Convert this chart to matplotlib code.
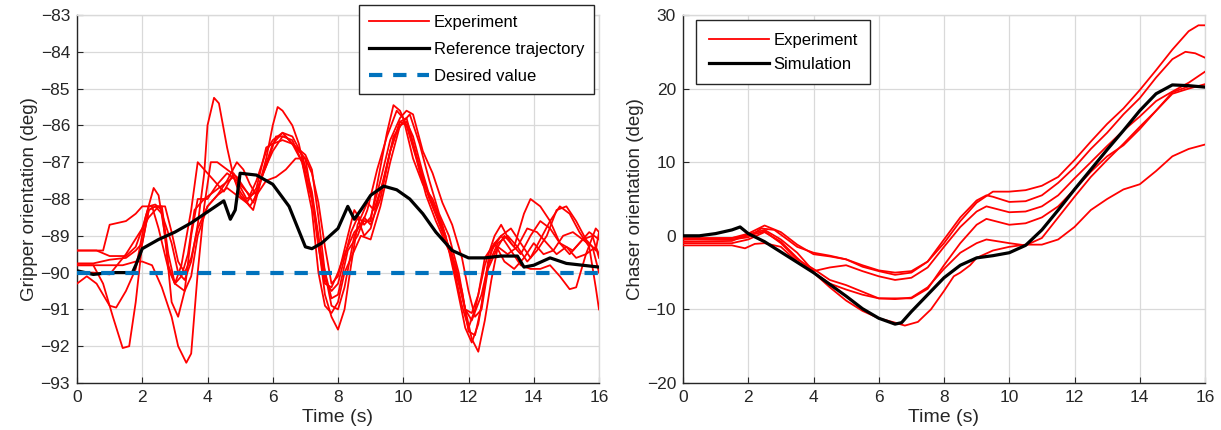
import matplotlib
matplotlib.use("Agg")
import matplotlib.pyplot as plt

# ---------------- Left panel data: Gripper orientation ----------------
ref_t = [0, 0.5, 1.0, 1.7, 1.8, 2.0, 2.5, 3.0, 3.5, 4.0, 4.5, 4.7, 4.85, 5.0, 5.5, 6.0, 6.5, 7.0, 7.2,
         7.5, 8.0, 8.3, 8.5, 8.7, 9.0, 9.4, 9.8, 10.2, 10.6, 11.0, 11.5, 12.0, 12.5, 13.0, 13.5, 13.7,
         14.0, 14.5, 15.0, 15.5, 16.0]
ref_y = [-89.95, -90.05, -90.0, -90.0, -89.8, -89.35, -89.1, -88.9, -88.65, -88.35, -88.05, -88.55, -88.3,
         -87.3, -87.35, -87.6, -88.2, -89.3, -89.35, -89.2, -88.8, -88.2, -88.55, -88.3, -87.9, -87.65,
         -87.75, -88.0, -88.4, -88.9, -89.4, -89.6, -89.6, -89.55, -89.55, -89.85, -89.8, -89.6, -89.75,
         -89.8, -89.85]

expA_t = [0, 0.8, 1.0, 1.5, 1.8, 2.0, 2.3, 2.5, 2.8, 3.0, 3.2, 3.5, 3.7, 4.0, 4.5, 4.8, 5.0, 5.3, 5.5, 5.8,
          6.0, 6.3, 6.6, 6.9, 7.2, 7.5, 7.8, 8.0, 8.3, 8.6, 8.9, 9.2, 9.5, 9.8, 10.0, 10.3, 10.6, 10.9,
          11.2, 11.5, 11.8, 12.0, 12.2, 12.5, 12.8, 13.0, 13.3, 13.6, 13.9, 14.2, 14.5, 14.8, 15.2, 15.5,
          15.8, 16.0]
expA_y = [-89.4, -89.4, -88.7, -88.6, -88.4, -88.2, -88.2, -88.8, -89.9, -90.3, -89.8, -88.3, -87.0, -87.3,
          -87.8, -87.3, -87.6, -87.9, -87.5, -86.7, -86.4, -86.2, -86.5, -87.0, -88.0, -89.6, -90.7, -90.6,
          -89.4, -89.0, -88.3, -87.2, -86.3, -85.6, -85.8, -86.9, -87.6, -88.0, -88.7, -89.7, -90.9, -91.5,
          -91.0, -89.8, -89.0, -88.7, -89.2, -89.5, -89.0, -88.6, -88.8, -89.2, -89.4, -89.1, -89.0, -89.6]

expB_t = [0, 0.5, 0.8, 1.1, 1.4, 1.6, 1.8, 2.0, 2.2, 2.4, 2.6, 2.8, 3.0, 3.2, 3.4, 3.6, 3.9, 4.2, 4.5, 4.8,
          5.0, 5.2, 5.5, 5.8, 6.0, 6.3, 6.6, 7.0, 7.2, 7.4, 7.6, 7.8, 8.0, 8.2, 8.5, 8.8, 9.0, 9.3, 9.6,
          9.9, 10.1, 10.4, 10.7, 11.0, 11.3, 11.6, 11.9, 12.1, 12.3, 12.6, 12.9, 13.2, 13.5, 13.8, 14.1,
          14.4, 14.7, 15.0, 15.3, 15.6, 15.9, 16.0]
expB_y = [-89.8, -89.8, -90.3, -91.2, -92.05, -92.0, -90.8, -89.2, -88.3, -88.2, -88.2, -89.5, -90.3, -90.1,
          -89.5, -88.3, -88.0, -87.8, -87.6, -87.4, -87.9, -88.1, -87.7, -86.6, -86.5, -86.4, -86.5, -86.8,
          -87.2, -88.5, -90.0, -90.9, -91.0, -90.4, -89.0, -88.5, -88.7, -88.0, -86.7, -85.9, -85.8, -86.8,
          -87.7, -88.3, -89.0, -90.2, -91.5, -91.9, -91.4, -89.8, -89.2, -89.0, -89.3, -89.7, -89.4, -89.0,
          -88.3, -88.2, -88.6, -89.1, -89.4, -88.9]

expC_t = [0, 0.3, 0.6, 1.0, 1.2, 1.5, 1.8, 2.1, 2.35, 2.5, 2.7, 2.9, 3.1, 3.3, 3.5, 3.7, 4.0, 4.3, 4.6, 4.9,
          5.2, 5.5, 5.8, 6.1, 6.4, 6.7, 7.0, 7.3, 7.6, 7.8, 8.0, 8.2, 8.4, 8.6, 8.9, 9.1, 9.4, 9.7, 10.0,
          10.2, 10.5, 10.8, 11.1, 11.4, 11.7, 11.9, 12.1, 12.3, 12.5, 12.7, 12.9, 13.1, 13.4, 13.7, 13.9,
          14.2, 14.5, 14.8, 15.1, 15.4, 15.7, 16.0]
expC_y = [-90.3, -90.1, -90.3, -90.9, -90.95, -90.5, -89.9, -88.5, -87.7, -87.9, -89.0, -90.8, -91.2, -90.5,
          -89.0, -88.0, -88.0, -87.6, -87.3, -87.5, -88.0, -87.8, -87.1, -86.3, -86.3, -86.6, -86.9, -88.5,
          -90.6, -91.2, -91.55, -91.0, -89.8, -88.7, -88.1, -88.3, -87.5, -86.3, -85.9, -85.7, -86.5, -87.5,
          -88.4, -89.0, -90.0, -91.0, -91.8, -92.15, -91.3, -90.2, -89.3, -89.0, -89.3, -88.4, -88.0, -88.2,
          -88.6, -89.2, -89.5, -89.2, -88.9, -89.1]

expD_t = [0, 0.6, 1.0, 1.4, 1.8, 2.0, 2.3, 2.6, 2.9, 3.1, 3.35, 3.5, 3.7, 3.9, 4.1, 4.3, 4.6, 4.9, 5.2, 5.4,
          5.7, 6.0, 6.3, 6.6, 6.9, 7.2, 7.4, 7.6, 7.8, 8.0, 8.2, 8.4, 8.6, 8.8, 9.0, 9.3, 9.6, 9.9, 10.1,
          10.4, 10.7, 11.0, 11.3, 11.6, 11.9, 12.1, 12.4, 12.7, 13.0, 13.3, 13.6, 13.9, 14.2, 14.5, 14.8,
          15.1, 15.3, 15.6, 15.9, 16.0]
expD_y = [-89.8, -89.8, -89.8, -89.8, -89.7, -89.7, -89.8, -90.4, -91.2, -92.0, -92.45, -92.2, -90.0, -88.2,
          -87.0, -87.0, -87.2, -87.4, -87.8, -88.1, -87.3, -86.5, -86.2, -86.3, -86.8, -87.8, -89.0, -90.2,
          -90.5, -90.3, -89.6, -88.9, -88.5, -89.0, -88.8, -87.8, -86.7, -85.9, -86.0, -86.9, -87.9, -88.6,
          -89.2, -89.8, -91.0, -91.3, -90.6, -89.4, -89.0, -89.4, -89.8, -89.9, -89.9, -89.8, -90.1, -90.45,
          -90.4, -89.5, -89.3, -89.5]

expE_t = [0, 0.5, 1.0, 1.5, 1.8, 2.0, 2.2, 2.4, 2.6, 2.9, 3.1, 3.3, 3.5, 3.7, 3.9, 4.0, 4.2, 4.35, 4.6, 4.8,
          5.0, 5.3, 5.5, 5.8, 6.0, 6.15, 6.3, 6.6, 6.8, 7.0, 7.2, 7.4, 7.6, 7.8, 8.0, 8.2, 8.5, 8.8, 9.0,
          9.2, 9.5, 9.7, 9.9, 10.2, 10.5, 10.8, 11.1, 11.4, 11.7, 11.9, 12.1, 12.3, 12.5, 12.8, 13.1, 13.4,
          13.7, 14.0, 14.3, 14.6, 14.9, 15.2, 15.5, 15.8, 16.0]
expE_y = [-89.75, -89.75, -89.65, -89.6, -89.4, -89.2, -88.3, -88.2, -88.4, -89.2, -90.0, -90.2, -89.7,
          -88.7, -87.3, -86.0, -85.25, -85.4, -86.6, -87.4, -87.8, -88.2, -87.9, -86.9, -86.0, -85.5, -85.6,
          -86.0, -86.5, -87.3, -88.0, -89.3, -90.3, -90.4, -90.0, -89.5, -88.9, -88.6, -88.6, -87.6, -86.2,
          -85.45, -85.6, -86.2, -87.2, -88.0, -88.6, -89.3, -90.3, -91.0, -91.1, -90.6, -89.6, -89.2, -89.7,
          -89.9, -89.6, -89.2, -89.5, -89.4, -89.0, -88.9, -89.1, -89.3, -90.0]

expF_t = [0, 0.5, 1.0, 1.5, 2.0, 2.2, 2.4, 2.6, 2.8, 3.0, 3.3, 3.5, 3.7, 4.0, 4.3, 4.6, 4.9, 5.2, 5.4, 5.7,
          6.0, 6.3, 6.6, 6.9, 7.2, 7.4, 7.6, 7.8, 8.0, 8.2, 8.5, 8.7, 9.0, 9.3, 9.6, 9.9, 10.1, 10.3, 10.6,
          10.9, 11.2, 11.5, 11.8, 12.0, 12.2, 12.4, 12.6, 12.8, 13.0, 13.3, 13.6, 13.9, 14.2, 14.5, 14.8,
          15.1, 15.4, 15.7, 15.9, 16.0]
expF_y = [-90.0, -90.0, -90.05, -89.5, -88.8, -88.2, -88.15, -88.3, -89.8, -90.3, -90.5, -90.1, -89.0, -88.2,
          -87.9, -87.7, -87.9, -88.1, -88.3, -87.3, -86.7, -86.3, -86.4, -87.0, -88.3, -90.0, -90.9, -91.1,
          -90.8, -90.0, -89.4, -89.0, -89.1, -88.2, -87.0, -86.0, -85.9, -86.3, -87.3, -88.2, -88.9, -89.5,
          -90.5, -91.6, -91.7, -90.9, -89.7, -89.2, -89.0, -88.8, -89.2, -89.6, -89.1, -88.6, -88.2, -88.4,
          -88.9, -89.3, -90.4, -91.0]

expG_t = [0, 0.6, 1.0, 1.5, 1.8, 2.0, 2.2, 2.5, 2.7, 2.9, 3.1, 3.3, 3.5, 3.7, 4.0, 4.3, 4.6, 4.9, 5.1, 5.3,
          5.5, 5.8, 6.1, 6.4, 6.7, 7.0, 7.2, 7.4, 7.6, 7.8, 8.0, 8.3, 8.5, 8.8, 9.0, 9.3, 9.6, 9.9, 10.1,
          10.3, 10.6, 10.9, 11.2, 11.5, 11.8, 12.0, 12.2, 12.4, 12.6, 12.9, 13.2, 13.5, 13.8, 14.1, 14.4,
          14.7, 15.0, 15.3, 15.6, 15.9, 16.0]
expG_y = [-89.4, -89.4, -89.55, -89.55, -89.3, -88.8, -88.5, -88.2, -88.2, -88.9, -89.7, -90.0, -89.6, -88.8,
          -88.2, -87.9, -87.5, -87.0, -87.2, -87.6, -87.9, -87.5, -87.4, -87.2, -86.9, -86.9, -87.3, -88.1,
          -89.3, -90.3, -90.1, -89.0, -88.3, -88.7, -88.5, -87.5, -86.4, -85.8, -85.6, -85.7, -86.7, -87.3,
          -88.1, -88.7, -89.6, -90.5, -91.2, -91.0, -89.9, -89.3, -89.5, -89.3, -88.8, -88.9, -89.2, -89.5,
          -89.3, -89.6, -89.5, -88.8, -88.9]

desired_value = -90.0

# ---------------- Right panel data: Chaser orientation ----------------
sim_t = [0, 0.5, 1.0, 1.5, 1.75, 2.0, 2.5, 3.0, 3.5, 4.0, 4.5, 5.0, 5.5, 6.0, 6.5, 6.7, 7.0, 7.5, 8.0, 8.5,
         9.0, 9.5, 10.0, 10.5, 11.0, 11.5, 12.0, 12.5, 13.0, 13.5, 14.0, 14.5, 15.0, 15.5, 16.0]
sim_y = [0.0, 0.0, 0.3, 0.8, 1.2, 0.3, -0.8, -2.2, -3.6, -5.0, -6.6, -8.2, -9.9, -11.2, -12.0, -11.8, -10.3,
         -8.0, -5.7, -4.0, -3.0, -2.7, -2.3, -1.3, 0.8, 3.5, 6.3, 9.0, 11.7, 14.3, 17.0, 19.3, 20.5, 20.4, 20.2]

r1_t = [0, 1.5, 2.0, 2.4, 2.8, 3.2, 3.5, 4.0, 4.5, 5.0, 5.5, 6.0, 6.5, 7.0, 7.5, 8.0, 8.5, 9.0, 9.5, 10.0,
        10.5, 11.0, 11.5, 12.0, 12.5, 13.0, 13.5, 14.0, 14.5, 15.0, 15.5, 15.8, 16.0]
r1_y = [-0.5, -0.5, -0.2, 1.0, 0.8, -0.5, -1.5, -2.3, -2.7, -3.2, -4.0, -4.7, -5.0, -4.8, -3.5, -1.0, 2.0, 4.5,
        6.0, 6.0, 6.2, 6.8, 8.0, 10.3, 12.8, 15.2, 17.3, 19.8, 22.5, 25.3, 27.8, 28.6, 28.6]

r2_t = [0, 1.5, 2.0, 2.5, 3.0, 3.5, 4.0, 4.5, 5.0, 5.5, 6.0, 6.5, 7.0, 7.5, 8.0, 8.5, 9.0, 9.3, 9.5, 10.0,
        10.5, 11.0, 11.5, 12.0, 12.5, 13.0, 13.5, 14.0, 14.5, 15.0, 15.4, 15.7, 16.0]
r2_y = [-0.3, -0.3, 0.3, 1.4, 0.5, -1.2, -2.5, -2.8, -3.2, -4.2, -4.8, -5.3, -5.0, -3.5, -0.5, 2.5, 4.8, 5.5,
        5.3, 4.6, 4.7, 5.5, 7.2, 9.3, 11.8, 14.0, 16.5, 18.7, 21.5, 24.0, 25.0, 24.8, 24.2]

r3_t = [0, 1.5, 2.0, 2.5, 3.0, 3.5, 4.0, 4.5, 5.0, 5.5, 6.0, 6.5, 7.0, 7.5, 8.0, 8.5, 9.0, 9.3, 10.0, 10.5,
        11.0, 11.5, 12.0, 12.5, 13.0, 13.5, 14.0, 14.5, 15.0, 15.5, 16.0]
r3_y = [-0.8, -0.7, 0.2, 0.8, -0.5, -2.3, -4.8, -4.3, -4.0, -4.8, -5.5, -6.0, -5.7, -4.3, -1.5, 1.2, 3.3, 4.0,
        3.2, 3.3, 4.0, 5.5, 7.8, 10.0, 12.2, 14.3, 16.2, 18.3, 19.6, 20.8, 22.3]

r4_t = [0, 1.5, 2.0, 2.5, 3.0, 3.5, 4.0, 4.5, 5.0, 5.5, 6.0, 6.5, 7.0, 7.5, 8.0, 8.5, 9.0, 9.3, 10.0, 10.5,
        11.0, 11.5, 12.0, 12.5, 13.0, 13.5, 14.0, 14.5, 15.0, 15.5, 16.0]
r4_y = [-1.0, -1.0, -0.5, 0.5, -0.8, -3.0, -5.0, -6.5, -7.3, -8.0, -8.5, -8.5, -8.5, -7.2, -4.0, -1.0, 1.5,
        2.3, 1.5, 1.7, 2.5, 4.0, 6.3, 8.7, 10.8, 12.3, 14.5, 17.0, 19.3, 20.0, 20.6]

r5_t = [0, 1.5, 2.0, 2.5, 3.0, 3.5, 4.0, 4.5, 5.0, 5.5, 6.0, 6.5, 7.0, 7.5, 8.0, 8.5, 9.0, 9.3, 10.0, 10.5,
        11.0, 11.5, 12.0, 12.5, 13.0, 13.5, 14.0, 14.5, 15.0, 15.5, 16.0]
r5_y = [-0.5, -0.3, 0.0, 0.6, -1.0, -3.2, -4.5, -6.0, -6.7, -7.6, -8.5, -8.6, -8.4, -7.0, -4.5, -2.3, -1.0,
        -0.5, -1.0, -1.3, -0.3, 2.5, 5.3, 8.0, 10.3, 12.5, 14.8, 17.0, 19.5, 20.3, 20.3]

r6_t = [0, 1.5, 1.9, 2.2, 2.5, 3.0, 3.5, 4.0, 4.5, 5.0, 5.5, 6.0, 6.5, 6.8, 7.2, 7.6, 8.0, 8.3, 8.5, 8.8,
        9.0, 9.5, 10.0, 10.5, 11.0, 11.5, 12.0, 12.5, 13.0, 13.5, 14.0, 14.5, 15.0, 15.5, 16.0]
r6_y = [-1.3, -1.3, -1.7, -1.1, -1.0, -1.5, -3.5, -5.0, -7.0, -8.8, -10.2, -11.2, -11.8, -12.2, -11.7, -10.0,
        -7.5, -5.5, -5.0, -4.0, -3.0, -2.0, -1.5, -1.2, -1.2, -0.5, 1.2, 3.5, 5.0, 6.3, 7.0, 8.8, 10.8, 11.8,
        12.4]

left_xticks = [0, 2, 4, 6, 8, 10, 12, 14, 16]
left_yticks = [-93, -92, -91, -90, -89, -88, -87, -86, -85, -84, -83]
right_yticks = [-20, -10, 0, 10, 20, 30]

# ---------------- Plot ----------------
plt.rcParams['font.family'] = ['Liberation Sans', 'DejaVu Sans']
plt.rcParams['axes.unicode_minus'] = True

W, H = 1221, 430
fig = plt.figure(figsize=(W / 100, H / 100), dpi=100)

axL = fig.add_axes([77 / W, 1 - 383 / H, (599 - 77) / W, (383 - 15) / H])
axR = fig.add_axes([683 / W, 1 - 383 / H, (1205 - 683) / W, (383 - 15) / H])

RED = '#ff0000'
DARK = '#262626'
GRID = '#d9d9d9'


def style(ax):
    ax.grid(True, color=GRID, linewidth=0.9)
    ax.set_axisbelow(True)
    for s in ['left', 'bottom']:
        ax.spines[s].set_color(DARK)
        ax.spines[s].set_linewidth(1.0)
    for s in ['top', 'right']:
        ax.spines[s].set_color(GRID)
        ax.spines[s].set_linewidth(1.0)
    ax.tick_params(direction='in', length=4, width=0.8, color=DARK, labelcolor=DARK,
                   labelsize=12.5, pad=5)
    ax.set_xlim(0, 16)
    ax.set_xticks(left_xticks)
    ax.set_xlabel('Time (s)', fontsize=14, color=DARK, labelpad=3)


exps_left = [(expA_t, expA_y), (expB_t, expB_y), (expC_t, expC_y), (expD_t, expD_y),
             (expE_t, expE_y), (expF_t, expF_y), (expG_t, expG_y)]
for i, (t, y) in enumerate(exps_left):
    axL.plot(t, y, color=RED, lw=1.3, label='Experiment' if i == 0 else None, zorder=3)
axL.plot(ref_t, ref_y, color='black', lw=2.3, label='Reference trajectory', zorder=4)
axL.axhline(desired_value, color='#0072BD', lw=3, dashes=(3.2, 2.6), label='Desired value', zorder=5)
style(axL)
axL.set_ylim(-93, -83)
axL.set_yticks(left_yticks)
axL.set_ylabel('Gripper orientation (deg)', fontsize=13.5, color=DARK, labelpad=2)
legL = axL.legend(loc='upper right', bbox_to_anchor=(594 / W, 1 - 5 / H), bbox_transform=fig.transFigure,
                  borderaxespad=0, fancybox=False, framealpha=1, edgecolor=DARK, fontsize=12,
                  handlelength=3.6, handletextpad=0.3, labelspacing=0.72, borderpad=0.6)
legL.get_frame().set_linewidth(1.0)
legL.set_zorder(10)

exps_right = [(r1_t, r1_y), (r2_t, r2_y), (r3_t, r3_y), (r4_t, r4_y), (r5_t, r5_y), (r6_t, r6_y)]
for i, (t, y) in enumerate(exps_right):
    axR.plot(t, y, color=RED, lw=1.3, label='Experiment' if i == 0 else None, zorder=3)
axR.plot(sim_t, sim_y, color='black', lw=2.3, label='Simulation', zorder=4)
style(axR)
axR.set_ylim(-20, 30)
axR.set_yticks(right_yticks)
axR.set_ylabel('Chaser orientation (deg)', fontsize=13.5, color=DARK, labelpad=2)
legR = axR.legend(loc='upper left', bbox_to_anchor=(696 / W, 1 - 20 / H), bbox_transform=fig.transFigure,
                  borderaxespad=0, fancybox=False, framealpha=1, edgecolor=DARK, fontsize=12,
                  handlelength=3.6, handletextpad=0.3, labelspacing=0.55, borderpad=0.75)
legR.get_frame().set_linewidth(1.0)

fig.savefig('out.png', dpi=100)
